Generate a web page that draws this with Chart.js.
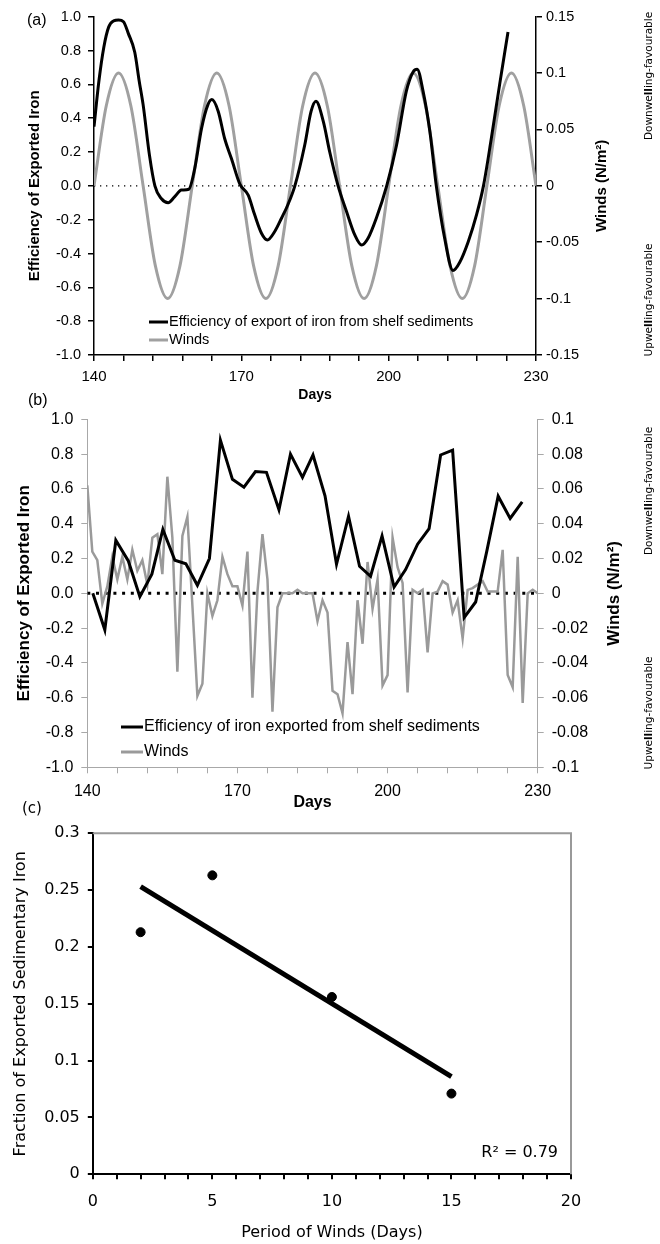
<!DOCTYPE html>
<html>
<head>
<meta charset="utf-8">
<script src="https://cdn.jsdelivr.net/npm/chart.js@4"></script>
<style>
  html, body { margin: 0; padding: 0; background: #fff; }
  #wrap { position: relative; width: 660px; height: 1244px; overflow: hidden; }
  canvas { position: absolute; left: 0; }
</style>
</head>
<body>
<div id="wrap">
  <canvas id="chartA" width="660" height="410" style="top:0px"></canvas>
  <canvas id="chartB" width="660" height="420" style="top:390px"></canvas>
  <canvas id="chartC" width="660" height="449" style="top:795px"></canvas>
</div>
<script>
// ---- panel (a): idealised sinusoidal winds ----
const daysA = [140, 141, 142, 143, 144, 145, 146, 147, 148.3, 149.2, 150, 151.3, 152.4, 153.7, 155.1, 156.4, 157.8, 159.3,
  160.5, 161.9, 163.2, 164, 165.3, 166.6, 168, 169.7, 171.4, 172.7, 174.1, 175.3, 176.8, 178.2, 179.5,
  180.9, 182.9, 184.2, 185.2, 186.7, 188, 189.7, 191.4, 193.1, 194.5, 195.8, 197.5, 199.6,
  201.6, 203.6, 205, 205.8, 207, 208.4, 209.7, 211.4, 213.1, 214.5, 216.2, 217.9, 219.3, 220.9, 222.6, 224.3];
const effA = [0.35, 0.62, 0.82, 0.94, 0.975, 0.98, 0.97, 0.9, 0.79, 0.62, 0.48, 0.18, 0.0, -0.075, -0.1, -0.065, -0.025, -0.02,
  0.1, 0.34, 0.48, 0.51, 0.44, 0.28, 0.16, 0.01, -0.055, -0.17, -0.28, -0.32, -0.27, -0.19, -0.11,
  0.0, 0.24, 0.44, 0.5, 0.38, 0.2, 0.0, -0.15, -0.29, -0.35, -0.31, -0.19, 0.0,
  0.24, 0.56, 0.675, 0.69, 0.56, 0.32, 0.0, -0.31, -0.5, -0.45, -0.33, -0.17, 0.0, 0.28, 0.6, 0.91];
const windDaysA = [140, 142.5, 145, 147.5, 150, 152.5, 155, 157.5, 160, 162.5, 165, 167.5, 170, 172.5, 175, 177.5, 180,
  182.5, 185, 187.5, 190, 192.5, 195, 197.5, 200, 202.5, 205, 207.5, 210, 212.5, 215, 217.5, 220, 222.5, 225, 227.5, 230];
const windA = [0, 0.071, 0.1, 0.071, 0, -0.071, -0.1, -0.071, 0, 0.071, 0.1, 0.071, 0, -0.071, -0.1, -0.071, 0,
  0.071, 0.1, 0.071, 0, -0.071, -0.1, -0.071, 0, 0.071, 0.1, 0.071, 0, -0.071, -0.1, -0.071, 0, 0.071, 0.1, 0.071, 0];

// ---- panel (b): observed winds ----
const effDaysB = [141.1, 143.5, 145.7, 148.2, 150.5, 152.9, 155.1, 157.5, 159.7, 162.0, 164.4, 166.6, 169.0, 171.3, 173.6,
  175.8, 178.3, 180.6, 183.0, 185.1, 187.5, 189.8, 192.2, 194.4, 196.6, 198.9, 201.3, 203.6, 206.0, 208.3,
  210.6, 213.0, 215.3, 217.6, 219.8, 222.1, 224.5, 226.9];
const effB = [0.0, -0.21, 0.305, 0.186, -0.02, 0.11, 0.367, 0.19, 0.17, 0.046, 0.2, 0.88, 0.655, 0.61, 0.70,
  0.695, 0.48, 0.80, 0.666, 0.795, 0.56, 0.167, 0.443, 0.155, 0.098, 0.33, 0.036, 0.136, 0.282, 0.372,
  0.795, 0.823, -0.14, -0.05, 0.238, 0.558, 0.43, 0.526];
const windDaysB = [140, 141, 142, 143, 144, 145, 146, 147, 148, 149, 150, 151, 152, 153, 154, 155, 156, 157, 158, 159,
  160, 161, 162, 163, 164, 165, 166, 167, 168, 169, 170, 171, 172, 173, 174, 175, 176, 177, 178, 179,
  180, 181, 182, 183, 184, 185, 186, 187, 188, 189, 190, 191, 192, 193, 194, 195, 196, 197, 198, 199,
  200, 201, 202, 203, 204, 205, 206, 207, 208, 209, 210, 211, 212, 213, 214, 215, 216, 217, 218, 219,
  220, 221, 222, 223, 224, 225, 226, 227, 228, 229, 230];
const windB = [0.062, 0.024, 0.019, -0.006, 0.004, 0.021, 0.008, 0.021, 0.008, 0.025, 0.013, 0.019, 0.005, 0.032, 0.034, 0.011, 0.067, 0.032, -0.045, 0.033,
  0.044, -0.007, -0.059, -0.052, 0.0, -0.013, -0.004, 0.021, 0.011, 0.004, 0.004, -0.007, 0.024, -0.060, 0.001, 0.034, 0.008, -0.068, -0.008, 0,
  0, 0, 0.002, 0, 0, 0, -0.016, -0.004, -0.011, -0.056, -0.058, -0.069, -0.028, -0.058, -0.004, -0.029, 0.018, -0.009, 0.008, -0.053,
  -0.047, 0.032, 0.015, 0.006, -0.057, 0.002, 0, 0.002, -0.034, 0, 0.001, 0.007, 0.005, -0.011, -0.004, -0.026, 0.002, 0.003, 0.005, 0.007,
  0.001, 0.001, 0.001, 0.025, -0.047, -0.054, 0.021, -0.063, 0, 0.002, 0];

// ---- panel (c): period vs exported fraction ----
const periodC = [2, 5, 10, 15];
const fractionC = [0.213, 0.263, 0.156, 0.071];
const trendPeriod = [2, 15];
const trendFraction = [0.253, 0.086];

const dayLabels = [140, 170, 200, 230];
const periodLabels = [0, 5, 10, 15, 20];

const SANS = '"Liberation Sans", Arial, sans-serif';
const VERD = '"DejaVu Sans", Verdana, sans-serif';
const GREY_A = '#a0a0a0';
const GREY_B = '#9a9a9a';

Chart.defaults.font.family = SANS;
Chart.defaults.color = '#000';
Chart.defaults.animation = false;

function pairs(xs, ys) {
  return xs.map((x, i) => ({ x: x, y: ys[i] }));
}

function clean(v, digits) {
  const n = Math.abs(v) < 1e-9 ? 0 : v;
  return digits === undefined ? String(Number(n.toFixed(3))) : n.toFixed(digits);
}

// rotated text reading bottom to top
function vText(ctx, text, x, y, font) {
  ctx.save();
  ctx.translate(x, y);
  ctx.rotate(-Math.PI / 2);
  ctx.font = font;
  ctx.fillStyle = '#000';
  ctx.textAlign = 'center';
  ctx.textBaseline = 'middle';
  ctx.fillText(text, 0, 0);
  ctx.restore();
}

// "Downwelling-favourable" with the bold "ll"
function vTextParts(ctx, parts, x, y, size) {
  ctx.save();
  ctx.translate(x, y);
  ctx.rotate(-Math.PI / 2);
  ctx.fillStyle = '#000';
  ctx.textBaseline = 'middle';
  ctx.textAlign = 'left';
  let total = 0;
  parts.forEach(p => {
    ctx.font = (p.bold ? 'bold ' : '') + size + 'px ' + VERD;
    total += ctx.measureText(p.t).width;
  });
  let cx = -total / 2;
  parts.forEach(p => {
    ctx.font = (p.bold ? 'bold ' : '') + size + 'px ' + VERD;
    ctx.fillText(p.t, cx, 0);
    cx += ctx.measureText(p.t).width;
  });
  ctx.restore();
}

function legendRow(ctx, x1, x2, y, color, text, size) {
  ctx.save();
  ctx.strokeStyle = color;
  ctx.lineWidth = 3;
  ctx.beginPath();
  ctx.moveTo(x1, y);
  ctx.lineTo(x2, y);
  ctx.stroke();
  ctx.font = size + 'px ' + SANS;
  ctx.fillStyle = '#000';
  ctx.textBaseline = 'middle';
  ctx.textAlign = 'left';
  ctx.fillText(text, x2 + 1, y);
  ctx.restore();
}

function sideAxis(color, width, tickLen) {
  return {
    grid: { drawOnChartArea: false, drawTicks: true, tickLength: tickLen, color: color, lineWidth: width },
    border: { color: color, width: width }
  };
}

// ---------- (a) ----------
const decorA = {
  id: 'decorA',
  afterDraw(chart) {
    const ctx = chart.ctx;
    const a = chart.chartArea;
    ctx.save();
    ctx.font = '16px ' + SANS;
    ctx.fillStyle = '#000';
    ctx.textBaseline = 'middle';
    ctx.fillText('(a)', 27, 21);
    ctx.font = 'bold 14px ' + SANS;
    ctx.textAlign = 'center';
    ctx.fillText('Days', (a.left + a.right) / 2, 395);
    ctx.restore();
    const midY = (a.top + a.bottom) / 2;
    vText(ctx, 'Efficiency of Exported Iron', 35, midY, 'bold 15px ' + SANS);
    vText(ctx, 'Winds (N/m²)', 602, midY, 'bold 15px ' + SANS);
    vTextParts(ctx, [{ t: 'Downwe' }, { t: 'll', bold: true }, { t: 'ing-favourable' }], 649, 76, 10.5);
    vTextParts(ctx, [{ t: 'Upwe' }, { t: 'll', bold: true }, { t: 'ing-favourable' }], 649, 300, 10.5);
    legendRow(ctx, 149, 168, 322, '#000', 'Efficiency of export of iron from shelf sediments', 14.5);
    legendRow(ctx, 149, 168, 340, GREY_A, 'Winds', 14.5);
  }
};

new Chart(document.getElementById('chartA'), {
  type: 'line',
  data: {
    datasets: [
      {
        data: pairs(daysA, effA), yAxisID: 'y', borderColor: '#000', borderWidth: 3,
        pointRadius: 0, cubicInterpolationMode: 'monotone', order: 0
      },
      {
        data: pairs(windDaysA, windA), yAxisID: 'y1', borderColor: GREY_A, borderWidth: 3,
        pointRadius: 0, cubicInterpolationMode: 'monotone', order: 1
      },
      {
        data: [{ x: 140, y: 0 }, { x: 230, y: 0 }], yAxisID: 'y', borderColor: '#000', borderWidth: 1.3,
        borderDash: [1.3, 4.7], pointRadius: 0, order: 2
      }
    ]
  },
  options: {
    responsive: false,
    layout: { padding: { left: 0, right: 0, top: 16.7, bottom: 0 } },
    plugins: { legend: { display: false }, tooltip: { enabled: false } },
    scales: {
      x: Object.assign({
        type: 'linear', position: 'bottom', min: 140, max: 230,
        afterFit: s => { s.height = 55; },
        ticks: {
          stepSize: 6, autoSkip: false, maxRotation: 0, padding: 7, font: { size: 15 },
          callback: v => dayLabels.includes(v) ? String(v) : ''
        }
      }, sideAxis('#000', 1.5, 6)),
      y: Object.assign({
        position: 'left', min: -1, max: 1,
        afterFit: s => { s.width = 94; },
        ticks: { stepSize: 0.2, padding: 7, font: { size: 14.5 }, callback: v => clean(v, 1) }
      }, sideAxis('#000', 1.5, 6)),
      y1: Object.assign({
        position: 'right', min: -0.15, max: 0.15,
        afterFit: s => { s.width = 124; },
        ticks: { stepSize: 0.05, padding: 4, font: { size: 14.5 }, callback: v => clean(v) }
      }, sideAxis('#000', 1.5, 6))
    }
  },
  plugins: [decorA]
});

// ---------- (b) ----------
const decorB = {
  id: 'decorB',
  afterDraw(chart) {
    const ctx = chart.ctx;
    const a = chart.chartArea;
    ctx.save();
    ctx.font = '16px ' + SANS;
    ctx.fillStyle = '#000';
    ctx.textBaseline = 'middle';
    ctx.fillText('(b)', 28, 11);
    ctx.font = 'bold 16px ' + SANS;
    ctx.textAlign = 'center';
    ctx.fillText('Days', (a.left + a.right) / 2, 413);
    ctx.restore();
    const midY = (a.top + a.bottom) / 2;
    vText(ctx, 'Efficiency of Exported Iron', 24, midY, 'bold 17px ' + SANS);
    vText(ctx, 'Winds (N/m²)', 614, midY, 'bold 17px ' + SANS);
    vTextParts(ctx, [{ t: 'Downwe' }, { t: 'll', bold: true }, { t: 'ing-favourable' }], 649, 101, 10.5);
    vTextParts(ctx, [{ t: 'Upwe' }, { t: 'll', bold: true }, { t: 'ing-favourable' }], 649, 323, 10.5);
    legendRow(ctx, 121, 143, 337, '#000', 'Efficiency of iron exported from shelf sediments', 16);
    legendRow(ctx, 121, 143, 362, GREY_B, 'Winds', 16);
  }
};

new Chart(document.getElementById('chartB'), {
  type: 'line',
  data: {
    datasets: [
      {
        data: pairs(effDaysB, effB), yAxisID: 'y', borderColor: '#000', borderWidth: 3,
        pointRadius: 0, tension: 0, order: 0
      },
      {
        data: pairs(windDaysB, windB), yAxisID: 'y1', borderColor: GREY_B, borderWidth: 2.5,
        pointRadius: 0, tension: 0, order: 1
      },
      {
        data: [{ x: 140, y: 0 }, { x: 230, y: 0 }], yAxisID: 'y', borderColor: '#000', borderWidth: 3,
        borderDash: [3, 5.7], pointRadius: 0, order: 2
      }
    ]
  },
  options: {
    responsive: false,
    layout: { padding: { left: 0, right: 0, top: 29.3, bottom: 0 } },
    plugins: { legend: { display: false }, tooltip: { enabled: false } },
    scales: {
      x: Object.assign({
        type: 'linear', position: 'bottom', min: 140, max: 230,
        afterFit: s => { s.height = 42.7; },
        ticks: {
          stepSize: 6, autoSkip: false, maxRotation: 0, padding: 9, font: { size: 16 },
          callback: v => dayLabels.includes(v) ? String(v) : ''
        }
      }, sideAxis('#a8a8a8', 1, 6)),
      y: Object.assign({
        position: 'left', min: -1, max: 1,
        afterFit: s => { s.width = 87.3; },
        ticks: { stepSize: 0.2, padding: 8, font: { size: 16 }, callback: v => clean(v, 1) }
      }, sideAxis('#a8a8a8', 1, 6)),
      y1: Object.assign({
        position: 'right', min: -0.1, max: 0.1,
        afterFit: s => { s.width = 122.3; },
        ticks: { stepSize: 0.02, padding: 8, font: { size: 16 }, callback: v => clean(v) }
      }, sideAxis('#a8a8a8', 1, 6))
    }
  },
  plugins: [decorB]
});

// ---------- (c) ----------
const decorC = {
  id: 'decorC',
  afterDraw(chart) {
    const ctx = chart.ctx;
    const a = chart.chartArea;
    ctx.save();
    ctx.strokeStyle = '#999';
    ctx.lineWidth = 2;
    ctx.beginPath();
    ctx.moveTo(a.left, a.top);
    ctx.lineTo(a.right, a.top);
    ctx.lineTo(a.right, a.bottom);
    ctx.stroke();
    ctx.fillStyle = '#000';
    ctx.textBaseline = 'middle';
    ctx.font = '15px ' + VERD;
    ctx.fillText('(c)', 22, 14);
    ctx.font = '16px ' + VERD;
    ctx.textAlign = 'right';
    ctx.fillText('R² = 0.79', a.right - 13, 358);
    ctx.textAlign = 'center';
    ctx.fillText('Period of Winds (Days)', (a.left + a.right) / 2, 438);
    ctx.restore();
    vText(ctx, 'Fraction of Exported Sedimentary Iron', 21, (a.top + a.bottom) / 2, '16px ' + VERD);
  }
};

new Chart(document.getElementById('chartC'), {
  type: 'scatter',
  data: {
    datasets: [
      {
        data: pairs(periodC, fractionC), pointRadius: 4.5, pointBackgroundColor: '#000',
        pointBorderColor: '#000', order: 0
      },
      {
        data: pairs(trendPeriod, trendFraction), showLine: true, borderColor: '#000', borderWidth: 5,
        pointRadius: 0, order: 1
      }
    ]
  },
  options: {
    responsive: false,
    font: { family: VERD },
    layout: { padding: { left: 0, right: 89, top: 38.3, bottom: 0 } },
    plugins: { legend: { display: false }, tooltip: { enabled: false } },
    scales: {
      x: Object.assign({
        type: 'linear', position: 'bottom', min: 0, max: 20,
        afterFit: s => { s.height = 69.7; },
        ticks: {
          stepSize: 1, autoSkip: false, maxRotation: 0, padding: 13, font: { family: VERD, size: 16 },
          callback: v => periodLabels.includes(v) ? String(v) : ''
        }
      }, sideAxis('#000', 2, 5)),
      y: Object.assign({
        position: 'left', min: 0, max: 0.3,
        afterFit: s => { s.width = 92.8; },
        ticks: { stepSize: 0.05, padding: 8, font: { family: VERD, size: 16 }, callback: v => clean(v) }
      }, sideAxis('#000', 2, 5))
    }
  },
  plugins: [decorC]
});
</script>
</body>
</html>
